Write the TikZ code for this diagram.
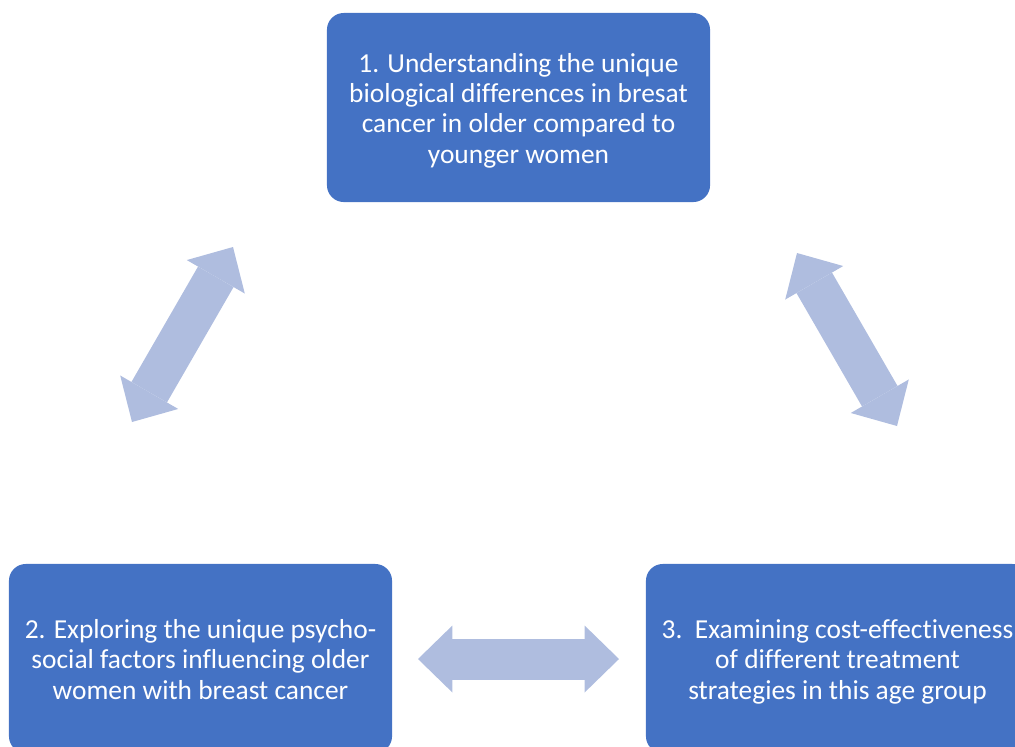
\documentclass[tikz,border=0pt]{standalone}
\usepackage{fontspec}
\setmainfont{Carlito}[Ligatures=CommonOff]
\usetikzlibrary{arrows.meta}
\definecolor{aimblue}{HTML}{4472C4}
\definecolor{linkblue}{HTML}{AFBDDF}
% taller strut on the first line pushes the text a bit lower in the box
\newcommand\aimtop{\rule{0pt}{21pt}}

\begin{document}
\begin{tikzpicture}[
  x=0.025cm, y=-0.025cm,
  font=\fontsize{19.5}{21.6}\selectfont,
  aim/.style={fill=aimblue,text=white,rounded corners=0.42cm,minimum width=9.575cm,minimum height=4.725cm,align=center,inner sep=0pt},
  link/.style={draw=linkblue,line width=1.025cm,
    >={Triangle[length=0.86cm,width=1.675cm,line width=0pt]},<->}
]
\useasboundingbox (0,0) rectangle (1015,746);
\clip (0,0) rectangle (1015,746);

% the three aims
\node[aim] (bio) at (518.5,107.5) {\aimtop 1. Understanding the unique\\biological differences in bresat\\cancer in older compared to\\younger women\strut};
\node[aim] (psy) at (200.5,658.5) {\aimtop 2. Exploring the unique psycho-\\social factors influencing older\\women with breast cancer\strut};
\node[aim] (cost) at (837.5,658.5) {\aimtop 3.\ \ Examining cost-effectiveness\\of different treatment\\strategies in this age group\strut};

% ends of the block arrows between the aims
\coordinate (bioL) at (233,247);
\coordinate (psyU) at (132,422);
\coordinate (bioR) at (797,253);
\coordinate (costU) at (897,426);
\coordinate (psyR) at (418,659);
\coordinate (costL) at (619,659);

\draw[link] (psyU) -- (bioL);
\draw[link] (bioR) -- (costU);
\draw[link] (psyR) -- (costL);
\end{tikzpicture}
\end{document}
